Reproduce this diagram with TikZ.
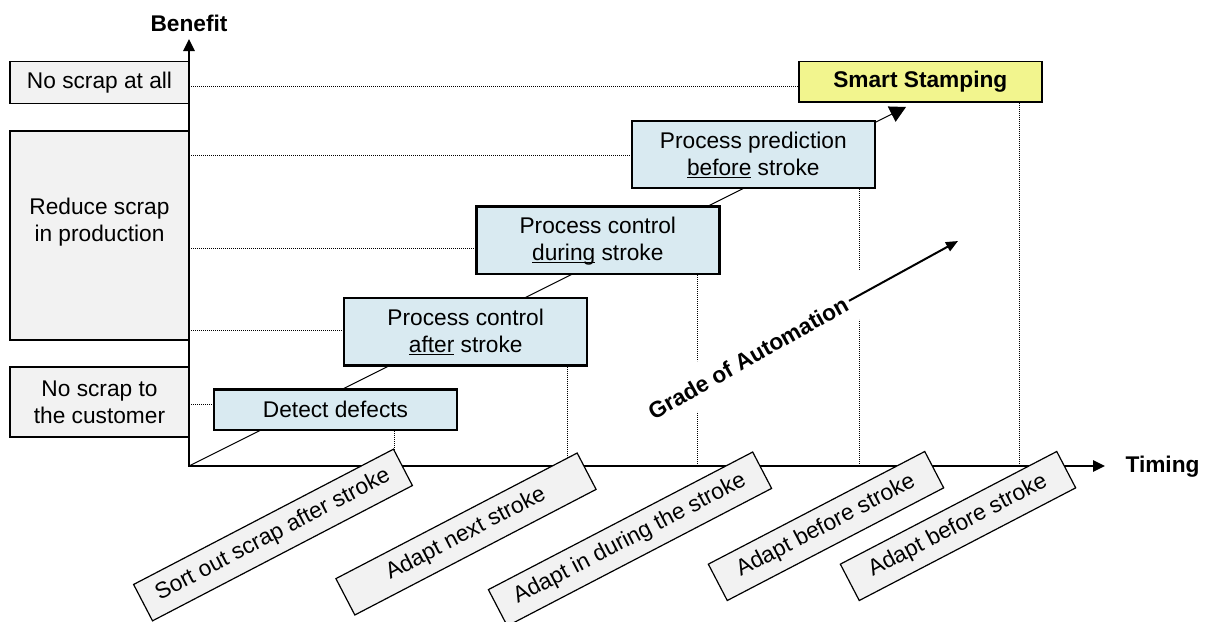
\documentclass[tikz,border=0pt]{standalone}
\usepackage{fontspec}
\setmainfont{Liberation Sans}
\usetikzlibrary{arrows.meta,backgrounds}
\definecolor{boxgray}{HTML}{F2F2F2}
\definecolor{stepblue}{HTML}{D9EAF1}
\definecolor{goalyellow}{HTML}{F2F58E}
\begin{document}
\begin{tikzpicture}[x=1pt,y=-1pt,
  font=\fontsize{22.7}{27.3}\selectfont,
  levelbox/.style={draw, line width=1.2pt, fill=boxgray, inner sep=0pt, minimum width=179pt},
  stagebox/.style={draw, line width=2.5pt, fill=stepblue, align=center,
    minimum width=243pt, inner sep=0pt},
  goalbox/.style={draw, line width=1.5pt, fill=goalyellow, font=\fontsize{22.7}{27.3}\selectfont\bfseries,
    minimum width=243pt, minimum height=40.5pt, inner sep=0pt},
  timebox/.style={draw, line width=1.2pt, fill=boxgray, rotate=27.5, minimum height=41pt, inner sep=0pt},
  guide/.style={line width=0.9pt, dash pattern=on 1pt off 1pt},
  axisline/.style={line width=2.5pt, line join=miter},
  axislabel/.style={font=\fontsize{22.7}{27.3}\selectfont\bfseries},
]
\useasboundingbox (0,0) rectangle (1207,621);

% axis anchor points
\coordinate (O) at (189,466);
\coordinate (ytop) at (189,39);
\coordinate (xend) at (1105,466);
\coordinate (atip) at (906,107);
\coordinate (gtip) at (958,241);

% stage boxes along the automation path
\node[stagebox, minimum height=40.5pt] (detect) at (335.5,409.5) {Detect defects};
\node[stagebox, minimum height=67.5pt] (after) at (465.7,331.7) {Process control\\\underline{\smash{after}} stroke};
\node[stagebox, minimum height=67.5pt] (during) at (597.8,240) {Process control\\\underline{\smash{during}} stroke};
\node[stagebox, minimum height=67pt] (pred) at (753.3,154.7) {Process prediction\\\underline{\smash{before}} stroke};
\node[goalbox] (smart) at (920.3,81.7) {Smart Stamping};

\begin{scope}[on background layer]
  % dotted guides to the benefit axis
  \draw[guide] (189,86) -- (smart.west |- 0,86);
  \draw[guide] (189,155) -- (pred.west |- 0,155);
  \draw[guide] (189,248) -- (during.west |- 0,248);
  \draw[guide] (189,330) -- (after.west |- 0,330);
  \draw[guide] (189,404) -- (detect.west |- 0,404);
  % dotted guides to the timing axis
  \draw[guide] (detect.south -| 394,0) -- (394,0 |- O);
  \draw[guide] (after.south -| 567.7,0) -- (567.7,0 |- O);
  \draw[guide] (during.south -| 697.7,0) -- (697.7,0 |- O);
  \draw[guide] (pred.south -| 859,0) -- (859,0 |- O);
  \draw[guide] (smart.south -| 1019,0) -- (1019,0 |- O);
  % automation path behind the stage boxes
  \draw[line width=1pt, -{Triangle[length=16pt,width=17pt]}] (O) -- (atip);
\end{scope}

% benefit levels
\node[levelbox, minimum height=41.5pt] (nsall) at (99.5,82.5) {No scrap at all};
\node[levelbox, minimum height=209pt] (reduce) at (99.5,235.5) {};
\node[align=center] (reducetxt) at (99.5,222) {Reduce scrap\\in production};
\node[levelbox, minimum height=70pt, align=center] (ncust) at (99.5,402) {No scrap to\\the customer};

% grade of automation
\node[fill=white, rotate=29.5, inner xsep=3pt, minimum height=44pt,
  font=\fontsize{22.7}{27.3}\selectfont\bfseries] (goa) at (748,358) {Grade of Automation};
\draw[line width=2pt, -{Triangle[length=12pt,width=10pt]},
  preaction={draw=white, line width=44pt, arrows=-}] (goa.east) -- (gtip);

% axes
\draw[axisline, {Triangle[length=12pt,width=11pt]}-{Triangle[length=12pt,width=11pt]}] (ytop) -- (O) -- (xend);
\node[axislabel] (benefit) at (189,23) {Benefit};
\node[axislabel, anchor=west] (timing) at (1122,467) {Timing};

% timing labels
\node[timebox, minimum width=293pt] (t1) at (273,535) {Sort out scrap after stroke};
\node[timebox, minimum width=272pt] (t2) at (466,534) {Adapt next stroke};
\node[timebox, minimum width=298pt] (t3) at (630,539) {Adapt in during the stroke};
\node[timebox, minimum width=244pt] (t4) at (826,526) {Adapt before stroke};
\node[timebox, minimum width=244pt] (t5) at (958,526) {Adapt before stroke};
\end{tikzpicture}
\end{document}
